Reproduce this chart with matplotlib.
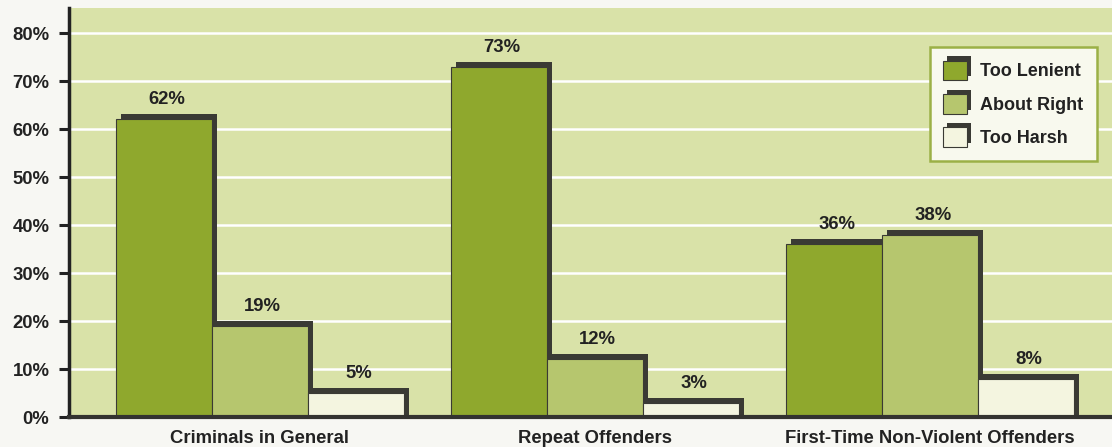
import numpy as np
import matplotlib
matplotlib.use('Agg')
import matplotlib.pyplot as plt
import matplotlib.patheffects as pe
import matplotlib.transforms as mtransforms
from matplotlib.ticker import FuncFormatter

CATEGORIES = ['Criminals in General', 'Repeat Offenders', 'First-Time Non-Violent Offenders']
SERIES = ['Too Lenient', 'About Right', 'Too Harsh']
TOO_LENIENT = [62, 73, 36]
ABOUT_RIGHT = [19, 12, 38]
TOO_HARSH = [5, 3, 8]
Y_TICKS = [0, 10, 20, 30, 40, 50, 60, 70, 80]

COLORS = ['#8fa82d', '#b6c66e', '#f4f5e0']
SHADOW = '#3a3a34'
PANEL = '#d9e2a8'
PAPER = '#f7f7f3'

plt.rcParams['font.family'] = ['Liberation Sans', 'DejaVu Sans']
plt.rcParams['font.weight'] = 'bold'

def main():
    fig = plt.figure(figsize=(11.12, 4.47), dpi=100, facecolor=PAPER)
    ax = fig.add_axes([0.062, 0.067, 0.938, 0.915])
    ax.set_facecolor(PANEL)

    x = np.arange(len(CATEGORIES))
    width = 0.287
    # drop shadow: same bar shifted 5px right and up, running below the baseline
    shift = mtransforms.offset_copy(ax.transData, fig=fig, x=5, y=5, units='dots')
    series_vals = [TOO_LENIENT, ABOUT_RIGHT, TOO_HARSH]
    for i, (name, vals) in enumerate(zip(SERIES, series_vals)):
        pos = x + (i - 1) * width
        ax.bar(pos, np.array(vals) + 3, width, bottom=-3, color=SHADOW,
               linewidth=0, transform=shift, zorder=2 + i * 0.1)
        bars = ax.bar(pos, vals, width, color=COLORS[i], edgecolor=SHADOW,
                      linewidth=0.8, label=name, zorder=2.05 + i * 0.1)
        for b, v in zip(bars, vals):
            ax.annotate('%d%%' % v, (b.get_x() + b.get_width() / 2, v),
                        xytext=(2, 8), textcoords='offset points',
                        ha='center', va='bottom', fontsize=13.3,
                        fontweight='bold', color='#222222', zorder=5)

    ax.set_xlim(-0.57, 2.543)
    ax.set_ylim(0, 85.2)
    ax.set_yticks(Y_TICKS)
    ax.yaxis.set_major_formatter(FuncFormatter(lambda v, p: '%d%%' % v))
    ax.set_xticks(x)
    ax.set_xticklabels(CATEGORIES)
    ax.yaxis.grid(True, color='white', linewidth=1.8, zorder=1)
    ax.set_axisbelow(True)

    ax.tick_params(axis='y', length=7, width=2.2, color='#222222', pad=7,
                   labelsize=13.3, labelcolor='#222222')
    ax.tick_params(axis='x', length=0, pad=9, labelsize=13.3, labelcolor='#222222')
    for lab in ax.get_xticklabels() + ax.get_yticklabels():
        lab.set_fontweight('bold')

    for side in ['top', 'right']:
        ax.spines[side].set_visible(False)
    ax.spines['left'].set_color('#222222')
    ax.spines['left'].set_linewidth(2.5)
    ax.spines['bottom'].set_color('#333330')
    ax.spines['bottom'].set_linewidth(3)
    ax.spines['bottom'].set_zorder(4)

    leg = ax.legend(loc='upper right', bbox_to_anchor=(0.9856, 0.9046),
                    borderaxespad=0, fancybox=False, framealpha=1,
                    facecolor='#f8f9ee', edgecolor='#9bb046',
                    handlelength=1.3, handleheight=1.3, handletextpad=0.75,
                    labelspacing=0.75, borderpad=0.75,
                    prop={'weight': 'bold', 'size': 13})
    leg.get_frame().set_linewidth(1.8)
    for h in leg.legend_handles:
        h.set_path_effects([pe.SimplePatchShadow(offset=(3, 3), shadow_rgbFace=SHADOW,
                                                 alpha=1.0), pe.Normal()])
    for t in leg.get_texts():
        t.set_color('#222222')

    fig.savefig('out.png', dpi=100, facecolor=PAPER)

if __name__ == '__main__':
    main()
